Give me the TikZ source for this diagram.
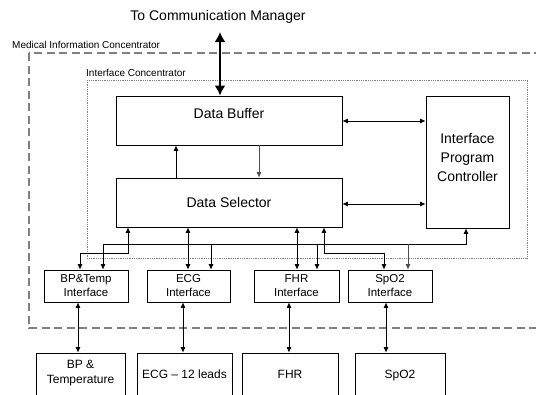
\documentclass[tikz,border=0pt]{standalone}
\usepackage{fontspec}
\setmainfont{Liberation Sans}
\usetikzlibrary{arrows.meta,calc}
\tikzset{
  box/.style={draw, line width=0.8pt, inner sep=0pt},
  bigtxt/.style={font=\fontsize{14}{19}\selectfont, align=center, inner sep=0pt},
  midtxt/.style={font=\fontsize{11.5}{14}\selectfont, align=center},
  smalltxt/.style={font=\fontsize{10}{12}\selectfont, inner sep=0pt, anchor=west},
  arr/.style={line width=0.7pt, -{Latex[length=5.5pt,width=5pt]}},
  dbl/.style={line width=0.7pt, {Latex[length=5.5pt,width=5pt]}-{Latex[length=5.5pt,width=5pt]}},
  thickdbl/.style={line width=2.6pt, {Latex[length=10pt,width=11pt]}-{Latex[length=10pt,width=11pt]}},
}
\begin{document}
\begin{tikzpicture}[x=1pt,y=-1pt]
\useasboundingbox (0,0) rectangle (536,394);
\clip (0,0) rectangle (536,394);
% frames
\draw[gray, line width=1.3pt, dash pattern=on 8pt off 4.5pt] (29,53) rectangle (548,328);
\draw[black!50, line width=0.9pt, dash pattern=on 0.9pt off 0.9pt] (87,80) rectangle (527,258);
\node[smalltxt] (mic) at (12,45) {Medical Information Concentrator};
\node[smalltxt] (ic) at (86,73) {Interface Concentrator};
\node[bigtxt] (title) at (218,17) {To Communication Manager};
% main boxes
\node[box, minimum width=226pt, minimum height=49pt] (buf) at (229,120.5) {};
\node[bigtxt] at (229,113) {Data Buffer};
\node[box, minimum width=226pt, minimum height=49pt] (sel) at (229,202.5) {};
\node[bigtxt] at (229,202) {Data Selector};
\node[box, minimum width=83pt, minimum height=132pt] (ctrl) at (467.5,162) {};
\node[bigtxt] at (467.5,157.5) {Interface\\Program\\Controller};
% interface boxes
\node[box, midtxt, minimum width=84pt, minimum height=32pt] (bpi) at (86,286) {BP\&Temp\\Interface};
\node[box, midtxt, minimum width=83pt, minimum height=32pt] (ecgi) at (188.5,286) {ECG\\Interface};
\node[box, midtxt, minimum width=85pt, minimum height=32pt] (fhri) at (296.5,286) {FHR\\Interface};
\node[box, midtxt, minimum width=84pt, minimum height=32pt] (spi) at (390,286) {SpO2\\Interface};
% sensor boxes
\node[box, minimum width=89pt, minimum height=47pt] (bp) at (80.5,376.5) {};
\node[midtxt, font=\fontsize{12}{14.5}\selectfont] at (80.5,373) {BP \&\\Temperature};
\node[box, minimum width=95pt, minimum height=47pt] (ecg) at (184.5,376.5) {};
\node[midtxt, font=\fontsize{12}{14.5}\selectfont] at (184.5,374) {ECG -- 12 leads};
\node[box, minimum width=96pt, minimum height=47pt] (fhr) at (290,376.5) {};
\node[midtxt, font=\fontsize{12}{14.5}\selectfont] at (290,374) {FHR};
\node[box, minimum width=90pt, minimum height=47pt] (spo) at (400,376.5) {};
\node[midtxt, font=\fontsize{12}{14.5}\selectfont] at (400,376) {SpO2};
% top connector
\coordinate (cm) at (220,32);
\draw[thickdbl] (cm) -- (buf.north -| cm);
% buffer / selector / controller
\draw[dbl] (buf.east |- 0,121) -- (ctrl.west |- 0,121);
\draw[dbl] (sel.east |- 0,204) -- (ctrl.west |- 0,204);
\draw[arr] (sel.north -| 176,0) -- (buf.south -| 176,0);
\draw[arr, gray!60!black] (buf.south -| 259,0) -- (sel.north -| 259,0);
% control bus
\coordinate (busl) at (103,244);
\coordinate (busr) at (466,244);
\draw[arr] (busl) -- (busr) -- (ctrl.south -| busr);
\draw[arr] (busl) -- (bpi.north -| busl);
\draw[arr] (211,244) -- (ecgi.north -| 211,0);
\draw[arr] (317,244) -- (fhri.north -| 317,0);
\draw[arr, gray!60!black] (408,244) -- (spi.north -| 408,0);
% data lines
\draw[dbl] (bpi.north -| 80,0) -- (80,253) -- (128,253) -- (sel.south -| 128,0);
\draw[dbl] (sel.south -| 188,0) -- (ecgi.north -| 188,0);
\draw[dbl] (sel.south -| 297,0) -- (fhri.north -| 297,0);
\draw[dbl] (sel.south -| 324,0) -- (324,253) -- (384,253) -- (spi.north -| 384,0);
% sensor links
\draw[dbl] (bpi.south -| 78,0) -- (bp.north -| 78,0);
\draw[dbl] (ecgi.south -| 183,0) -- (ecg.north -| 183,0);
\draw[dbl] (fhri.south -| 289,0) -- (fhr.north -| 289,0);
\draw[dbl] (spi.south -| 386,0) -- (spo.north -| 386,0);
\end{tikzpicture}
\end{document}
